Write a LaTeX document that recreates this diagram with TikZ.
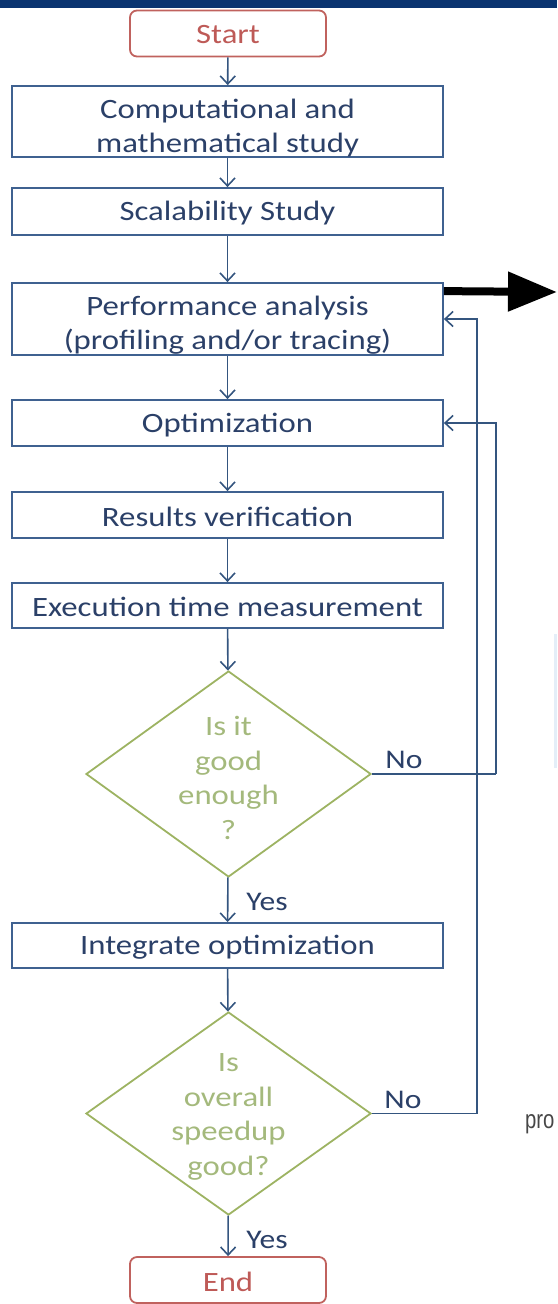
\documentclass[tikz,border=0pt]{standalone}
\usepackage{fontspec}
\setmainfont{Carlito}[FakeStretch=1.17]
\newfontfamily\narrowfont{Liberation Sans}[FakeStretch=0.78]
\usetikzlibrary{shapes.geometric,arrows.meta}
\definecolor{barblue}{HTML}{0A3470}
\definecolor{boxline}{HTML}{3F6190}
\definecolor{navytext}{HTML}{2B4068}
\definecolor{greenline}{HTML}{9DB362}
\definecolor{greentext}{HTML}{A4B97C}
\definecolor{redline}{HTML}{C0625E}
\definecolor{redtext}{HTML}{BE5A57}
\definecolor{linkline}{HTML}{34557F}
\definecolor{faint}{HTML}{E4EEF8}
\tikzset{
  stepbox/.style={draw=boxline, line width=1.8pt, rectangle, minimum width=431pt, inner sep=0pt},
  termbox/.style={draw=redline, line width=1.8pt, rectangle, rounded corners=7pt, minimum width=196pt, minimum height=46pt, inner sep=0pt},
  decision/.style={draw=greenline, line width=1.8pt, diamond, inner sep=0pt, minimum width=285pt},
  termtext/.style={text=redtext, font=\fontsize{28}{34}\selectfont, inner sep=0pt},
  steptext/.style={text=navytext, align=center, font=\fontsize{28}{34.5}\selectfont, inner sep=0pt},
  dectext/.style={text=greentext, align=center, font=\fontsize{28}{34.5}\selectfont, inner sep=0pt},
  lbl/.style={text=navytext, font=\fontsize{27}{30}\selectfont, inner sep=0pt},
  arr/.style={draw=linkline, line width=1.6pt, -{Straight Barb[length=8pt,width=15pt,line width=1.6pt]}},
  fb/.style={draw=linkline, line width=1.6pt},
  bigarrow/.style={draw=black, line width=8pt, -{Triangle[length=49pt,width=38pt]}}
}
\begin{document}
\begin{tikzpicture}[x=1pt,y=-1pt]
\useasboundingbox (0,0) rectangle (557,1304);
\clip (0,0) rectangle (557,1304);
% top bar
\fill[barblue] (0,0) rectangle (557,8);
% faint marks at right
\draw[faint, line width=3pt] (555,634) -- (555,768);
\node[text=black!72, anchor=base west, font=\fontsize{26}{30}\selectfont, inner sep=0pt] (pro) at (525,1128) {\narrowfont pro};

% nodes
\node[termbox] (start) at (228,33.5) {};
\node[termtext] (starttxt) at (228,35) {Start};

\node[stepbox, minimum height=71pt] (b1) at (227.5,121.5) {};
\node[steptext] (t1) at (227.5,128) {Computational and\\mathematical study};

\node[stepbox, minimum height=47pt] (b2) at (227.5,211.5) {};
\node[steptext] (t2) at (227.5,213) {Scalability Study};

\node[stepbox, minimum height=72pt] (b3) at (227.5,319) {};
\node[steptext] (t3) at (227.5,325) {Performance analysis\\(profiling and/or tracing)};

\node[stepbox, minimum height=46pt] (b4) at (227.5,423) {};
\node[steptext] (t4) at (227.5,425) {Optimization};

\node[stepbox, minimum height=46pt] (b5) at (227.5,515) {};
\node[steptext] (t5) at (227.5,517) {Results verification};

\node[stepbox, minimum height=45pt] (b6) at (227.5,605.5) {};
\node[steptext] (t6) at (227.5,607) {Execution time measurement};

\node[decision, minimum height=206pt] (d1) at (228.5,774) {};
\node[dectext] (dt1) at (228.5,778) {Is it\\good\\enough\\?};

\node[stepbox, minimum height=45pt] (b7) at (227.5,945.5) {};
\node[steptext] (t7) at (227.5,947) {Integrate optimization};

\node[decision, minimum height=203pt] (d2) at (228.5,1113.5) {};
\node[dectext] (dt2) at (228.5,1117) {Is\\overall\\speedup\\good?};

\node[termbox] (end) at (228,1280) {};
\node[termtext] (endtxt) at (228,1282) {End};

% labels
\node[lbl] (no1) at (404,760) {No};
\node[lbl] (yes1) at (267,902) {Yes};
\node[lbl] (no2) at (403,1100) {No};
\node[lbl] (yes2) at (267,1240) {Yes};

% connectors
\draw[arr] (start) -- (b1);
\draw[arr] (b1) -- (b2);
\draw[arr] (b2) -- (b3);
\draw[arr] (b3) -- (b4);
\draw[arr] (b4) -- (b5);
\draw[arr] (b5) -- (b6);
\draw[arr] (b6) -- (d1);
\draw[arr] (d1) -- (b7);
\draw[arr] (b7) -- (d2);
\draw[arr] (d2) -- (end);

\coordinate (r1) at (496,774);
\coordinate (r2) at (477,1113.5);
\draw[fb] (d1.east) -- (r1);
\draw[arr] (r1) |- (b4.east);
\draw[fb] (d2.east) -- (r2);
\draw[arr] (r2) |- (b3.east);

\coordinate (bigtip) at (557,292);
\draw[bigarrow] ([yshift=-9pt]b3.north east) -- (bigtip);
\end{tikzpicture}
\end{document}
